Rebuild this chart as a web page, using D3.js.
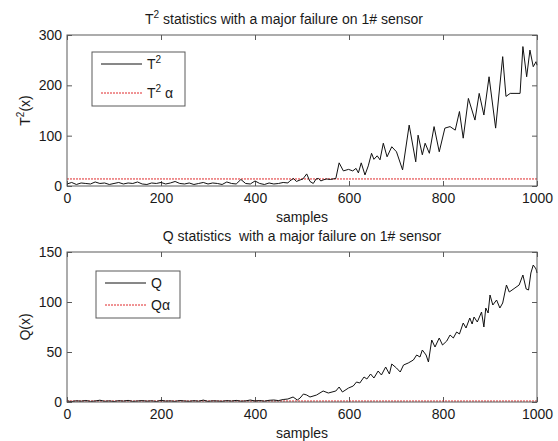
<!DOCTYPE html>
<html>
<head>
<meta charset="utf-8">
<script src="https://cdn.jsdelivr.net/npm/d3@7"></script>
<style>
  html, body { margin: 0; padding: 0; background: #fff; }
  svg { display: block; }
  text { font-family: Arial, "Liberation Sans", sans-serif; fill: #1a1a1a; }
</style>
</head>
<body>
<svg id="chart" width="558" height="441"></svg>
<script>
// ---- data ----
const xTicks = [0, 200, 400, 600, 800, 1000];
const t2Ticks = [0, 100, 200, 300];
const qTicks = [0, 50, 100, 150];

// T² statistic: sample index and value
const t2Samples = [
  0, 10, 20, 30, 40, 50, 60, 70, 80, 90,
  100, 110, 120, 130, 140, 150, 160, 170, 180, 190,
  200, 210, 220, 230, 240, 250, 260, 270, 280, 290,
  300, 310, 320, 330, 340, 350, 360, 370, 380, 390,
  400, 410, 420, 430, 440, 450, 460, 470,
  474, 482, 488, 496, 502, 510, 517, 524, 530, 535,
  540, 545, 552, 560, 572, 579, 588, 599, 608, 615,
  620, 626, 634, 641, 648, 653, 660, 666, 673, 681,
  691, 701, 714, 728, 742, 747, 756, 762, 771, 781,
  792, 804, 815, 826, 835, 843, 854, 868, 877, 887,
  898, 912, 927, 934, 943, 964, 970, 978, 985, 992,
  998, 1000
];
const t2Values = [
  4, 7, 3, 6, 5, 4, 8, 5, 6, 3,
  5, 7, 4, 6, 5, 8, 4, 3, 6, 5,
  7, 4, 6, 9, 5, 4, 6, 3, 5, 7,
  4, 6, 5, 3, 8, 5, 4, 13, 5, 4,
  10, 5, 3, 6, 4, 5, 7, 6,
  10, 15, 9, 12, 14, 24, 9, 5, 14, 15,
  10, 12, 14, 13, 15, 46, 30, 33, 30, 35,
  26, 46, 22, 40, 65, 53, 60, 52, 85, 58,
  78, 68, 32, 121, 48, 101, 62, 85, 65, 118,
  68, 115, 118, 111, 148, 95, 174, 131, 184, 141,
  217, 115, 257, 178, 184, 184, 277, 217, 270, 237,
  247, 240
];
const t2Limit = 14;

// Q statistic: sample index and value
const qSamples = [
  0, 10, 20, 30, 40, 50, 60, 70, 80, 90,
  100, 110, 120, 130, 140, 150, 160, 170, 180, 190,
  200, 210, 220, 230, 240, 250, 260, 270, 280, 290,
  300, 310, 320, 330, 340, 350, 360, 370, 380, 390,
  400, 410, 420, 430, 440, 450, 460, 470,
  481, 490, 496, 503, 510, 517, 531, 545, 556, 572,
  579, 586, 599, 609, 616, 623, 632, 638, 646, 653,
  662, 669, 678, 686, 691, 701, 709, 716, 726, 737,
  744, 751, 756, 764, 769, 776, 783, 792, 799, 808,
  815, 822, 829, 835, 843, 849, 857, 862, 866, 873,
  882, 887, 891, 896, 900, 906, 914, 921, 927, 935,
  941, 953, 962, 970, 977, 982, 987, 992, 998, 1000
];
const qValues = [
  1, 0.5, 1.2, 0.8, 1.5, 0.6, 1, 1.8, 0.7, 1.1,
  0.5, 1.3, 0.9, 1.6, 0.6, 1, 1.4, 0.8, 1.2, 0.5,
  1.7, 0.9, 1.1, 0.6, 1.5, 1, 0.7, 1.3, 0.8, 1.9,
  0.6, 1.2, 1, 0.7, 1.4, 0.9, 1.6, 0.8, 1.1, 2,
  1, 1.5, 0.8, 1.7, 2, 1.4, 2.5, 3,
  5, 2, 4, 8, 7, 5, 7, 11, 9, 11,
  15, 10, 14, 16, 20, 19, 25, 23, 28, 24,
  31, 27, 35, 28, 38, 34, 30, 37, 39, 42,
  47, 45, 52, 47, 40, 62, 55, 64, 57, 61,
  67, 64, 70, 68, 79, 74, 84, 78, 85, 80,
  90, 75, 94, 89, 107, 97, 102, 94, 99, 117,
  110, 114, 117, 127, 113, 112, 129, 137, 133, 129
];
const qLimit = 1;

// ---- layout ----
const svg = d3.select("#chart");
const left = 67, right = 537;
const fs = 14;
const limitColor = "#e0292b";
const panels = [
  {
    top: 35, bottom: 186, max: 300, ticks: t2Ticks,
    samples: t2Samples, values: t2Values, limit: t2Limit,
    title: [["T", 0], ["2", 1], [" statistics with a major failure on 1# sensor", 0]],
    titleShift: -18,
    ylabel: [["T", 0], ["2", 1], ["(x)", 0]],
    legend: { x: 92, y: 52, w: 93, h: 54,
      items: [[["T", 0], ["2", 1]], [["T", 0], ["2", 1], [" \u03b1", 0]]] }
  },
  {
    top: 252, bottom: 402, max: 150, ticks: qTicks,
    samples: qSamples, values: qValues, limit: qLimit,
    title: [["Q statistics\u00a0 with a major failure on 1# sensor", 0]],
    titleShift: 0,
    ylabel: [["Q(x)", 0]],
    legend: { x: 96, y: 271, w: 84, h: 47,
      items: [[["Q", 0]], [["Q\u03b1", 0]]] }
  }
];

const x = d3.scaleLinear().domain([0, 1000]).range([left, right]);
const axisColor = "#5a5a5a";

// writes text pieces into a <text>, raising the ones flagged as superscript
function richText(sel, parts, size) {
  parts.forEach(([str, sup], i) => {
    const prevSup = i > 0 ? parts[i - 1][1] : 0;
    const t = sel.append("tspan").text(str);
    if (sup) t.attr("font-size", size * 0.72).attr("dy", -size * 0.42);
    else if (prevSup) t.attr("dy", size * 0.42);
  });
}

panels.forEach(p => {
  const y = d3.scaleLinear().domain([0, p.max]).range([p.bottom, p.top]);
  const g = svg.append("g");

  // ticks pointing into the plot on all four sides
  const bottomAxis = d3.axisBottom(x).tickValues(xTicks).tickSize(-5).tickPadding(7).tickFormat(d3.format("d"));
  const topAxis = d3.axisTop(x).tickValues(xTicks).tickSize(-5).tickFormat("");
  const leftAxis = d3.axisLeft(y).tickValues(p.ticks).tickSize(-5).tickPadding(5).tickFormat(d3.format("d"));
  const rightAxis = d3.axisRight(y).tickValues(p.ticks).tickSize(-5).tickFormat("");

  const styleAxis = a => {
    a.select(".domain").remove();
    a.selectAll("line").attr("stroke", axisColor);
    a.selectAll("text").attr("font-size", fs).attr("fill", "#1a1a1a")
      .attr("font-family", "Arial, 'Liberation Sans', sans-serif");
  };
  g.append("g").attr("transform", `translate(0,${p.bottom})`).call(bottomAxis).call(styleAxis);
  g.append("g").attr("transform", `translate(0,${p.top})`).call(topAxis).call(styleAxis);
  g.append("g").attr("transform", `translate(${left},0)`).call(leftAxis).call(styleAxis);
  g.append("g").attr("transform", `translate(${right},0)`).call(rightAxis).call(styleAxis);

  // control limit
  g.append("line")
    .attr("x1", x(0)).attr("x2", x(1000))
    .attr("y1", y(p.limit)).attr("y2", y(p.limit))
    .attr("stroke", limitColor).attr("stroke-width", 1)
    .attr("stroke-dasharray", "2,1");

  // statistic trace
  const line = d3.line().x((d, i) => x(p.samples[i])).y(d => y(d));
  g.append("path").datum(p.values)
    .attr("d", line)
    .attr("fill", "none").attr("stroke", "#111").attr("stroke-width", 1)
    .attr("stroke-linejoin", "round");

  // plot frame
  g.append("rect")
    .attr("x", left).attr("y", p.top)
    .attr("width", right - left).attr("height", p.bottom - p.top)
    .attr("fill", "none").attr("stroke", axisColor).attr("stroke-width", 1);

  // title
  const title = g.append("text")
    .attr("x", (left + right) / 2 + p.titleShift).attr("y", p.top - 11)
    .attr("text-anchor", "middle").attr("font-size", fs);
  richText(title, p.title, fs);

  // x label
  g.append("text")
    .attr("x", (left + right) / 2).attr("y", p.bottom + 36)
    .attr("text-anchor", "middle").attr("font-size", fs)
    .text("samples");

  // y label
  const yl = g.append("text")
    .attr("transform", `translate(30,${(p.top + p.bottom) / 2}) rotate(-90)`)
    .attr("text-anchor", "middle").attr("font-size", fs);
  richText(yl, p.ylabel, fs);

  // legend
  const L = p.legend;
  const lg = g.append("g");
  lg.append("rect")
    .attr("x", L.x).attr("y", L.y).attr("width", L.w).attr("height", L.h)
    .attr("fill", "#fff").attr("stroke", axisColor).attr("stroke-width", 1);
  const rows = [L.y + 12, L.y + L.h - 13];
  L.items.forEach((item, i) => {
    const cy = rows[i];
    lg.append("line")
      .attr("x1", L.x + 9).attr("x2", L.x + 50)
      .attr("y1", cy).attr("y2", cy)
      .attr("stroke", i === 0 ? "#111" : limitColor).attr("stroke-width", 1)
      .attr("stroke-dasharray", i === 0 ? null : "2,1");
    const t = lg.append("text")
      .attr("x", L.x + 55).attr("y", cy + 5)
      .attr("font-size", fs);
    richText(t, item, fs);
  });
});
</script>
</body>
</html>
